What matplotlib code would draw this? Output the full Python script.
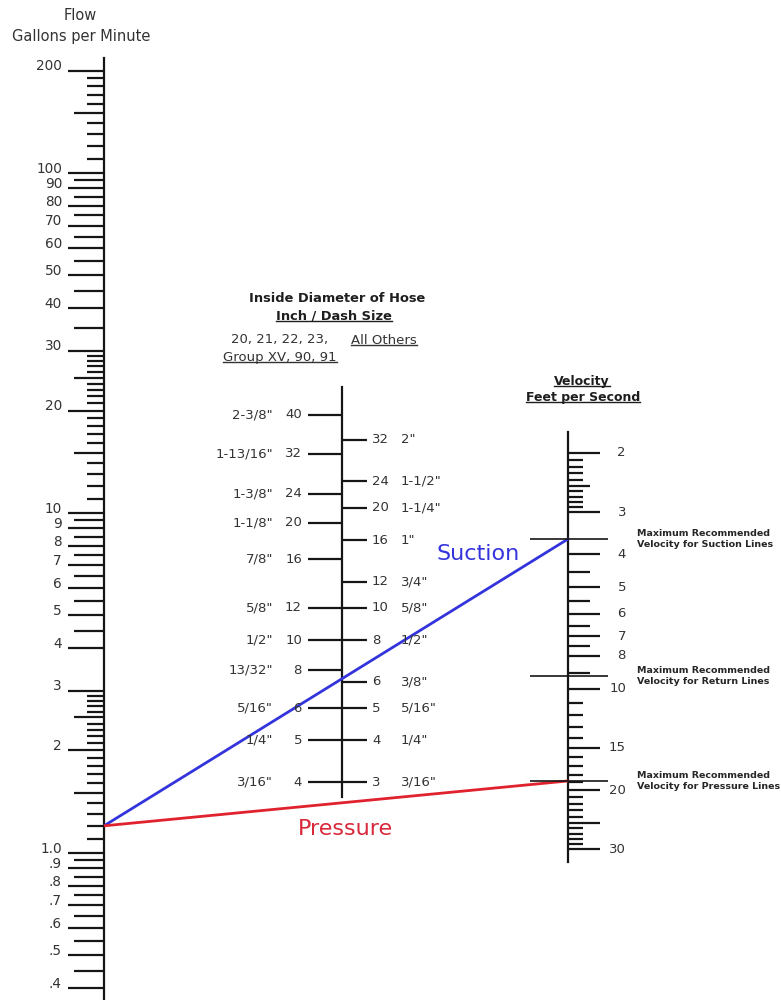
import matplotlib
matplotlib.use("Agg")
import numpy as np
import matplotlib.pyplot as plt

plt.rcParams['font.family'] = ['DejaVu Sans']

# Flow scale (gallons per minute)
FLOW_MAJOR = [200, 100, 90, 80, 70, 60, 50, 40, 30, 20, 10, 9, 8, 7, 6, 5, 4, 3, 2,
              1.0, 0.9, 0.8, 0.7, 0.6, 0.5, 0.4]
FLOW_MAJOR_TEXT = ["200", "100", "90", "80", "70", "60", "50", "40", "30", "20", "10",
                   "9", "8", "7", "6", "5", "4", "3", "2",
                   "1.0", ".9", ".8", ".7", ".6", ".5", ".4"]
FLOW_MID = [150, 95, 85, 75, 65, 55, 45, 35, 25, 15, 9.5, 8.5, 7.5, 6.5, 5.5, 4.5,
            2.5, 1.5, 0.95, 0.85, 0.75, 0.65, 0.55, 0.45]
FLOW_MINOR = [190, 180, 170, 160, 140, 130, 120, 110,
              29, 28, 27, 26, 24, 23, 22, 21,
              19, 18, 17, 16, 14, 13, 12, 11,
              2.9, 2.8, 2.7, 2.6, 2.4, 2.3, 2.2, 2.1,
              1.9, 1.8, 1.7, 1.6, 1.4, 1.3, 1.2, 1.1]

# Hose inside diameter (inches) with dash sizes, two hose groups
LEFT_DIA = [2.375, 1.8125, 1.375, 1.125, 0.875, 0.625, 0.5, 0.40625, 0.3125, 0.25, 0.1875]
LEFT_DASH = ["40", "32", "24", "20", "16", "12", "10", "8", "6", "5", "4"]
LEFT_INCH = ['2-3/8"', '1-13/16"', '1-3/8"', '1-1/8"', '7/8"', '5/8"', '1/2"',
             '13/32"', '5/16"', '1/4"', '3/16"']
RIGHT_DIA = [2.0, 1.5, 1.25, 1.0, 0.75, 0.625, 0.5, 0.375, 0.3125, 0.25, 0.1875]
RIGHT_DASH = ["32", "24", "20", "16", "12", "10", "8", "6", "5", "4", "3"]
RIGHT_INCH = ['2"', '1-1/2"', '1-1/4"', '1"', '3/4"', '5/8"', '1/2"', '3/8"',
              '5/16"', '1/4"', '3/16"']

# Velocity scale (feet per second)
VEL_MAJOR = [2, 3, 4, 5, 6, 7, 8, 10, 15, 20, 30]
VEL_LONG = [25]
VEL_MID = [2.5, 4.5, 5.5, 6.5, 7.5, 9]
VEL_MINOR = [2.1, 2.2, 2.3, 2.4, 2.6, 2.7, 2.8, 2.9,
             11, 12, 13, 14, 16, 17, 18, 19, 21, 22, 23, 24, 26, 27, 28, 29]

# Maximum recommended velocities
MAX_VEL = [3.6, 9.2, 18.8]
MAX_VEL_TEXT = ["Maximum Recommended\nVelocity for Suction Lines",
                "Maximum Recommended\nVelocity for Return Lines",
                "Maximum Recommended\nVelocity for Pressure Lines"]

# Worked example: 1.2 gpm
EXAMPLE_FLOW = 1.2
SUCTION_VEL = 3.6
PRESSURE_VEL = 18.8

W, H = 781, 1000
INK = "#161616"
TXT = "#333333"
BLUE = "#3434dc"
RED = "#e0222e"

fig = plt.figure(figsize=(W / 100, H / 100), dpi=100)
base = fig.add_axes([0, 0, 1, 1])
base.set_xlim(0, W)
base.set_ylim(H, 0)
base.axis("off")


def log_axes(v_a, y_a, v_b, y_b):
    """Overlay axes with a log y scale pinned to two (value, pixel-from-top) anchors."""
    ax = fig.add_axes([0, 0, 1, 1])
    ax.set_xlim(0, W)
    ax.set_yscale("log")
    k = (np.log10(v_b) - np.log10(v_a)) / (y_b - y_a)
    lo = 10 ** (np.log10(v_a) + (H - y_a) * k)
    hi = 10 ** (np.log10(v_a) - y_a * k)
    ax.set_ylim(lo, hi)
    ax.axis("off")
    ax.patch.set_visible(False)
    return ax


ax_f = log_axes(200, 70.6, 0.4, 988)
ax_d = log_axes(1.0, 540, 0.1, 873)
ax_v = log_axes(2, 453, 20, 790)

# ---- flow scale ----
FX = 104
base.plot([FX, FX], [58, H], color=INK, lw=1.6)
ax_f.hlines(FLOW_MAJOR, 68, FX, color=INK, lw=1.6)
ax_f.hlines(FLOW_MID, 74, FX, color=INK, lw=1.6)
ax_f.hlines(FLOW_MINOR, 87, FX, color=INK, lw=1.6)
for v, s in zip(FLOW_MAJOR, FLOW_MAJOR_TEXT):
    ax_f.annotate(s, (62, v), xytext=(0, 3), textcoords="offset points",
                  ha="right", va="center", fontsize=9.8, color=TXT)
base.text(80, 16, "Flow", ha="center", va="center", fontsize=10.5, color=TXT)
base.text(81, 37, "Gallons per Minute", ha="center", va="center", fontsize=10.5, color=TXT)

# ---- hose diameter scale ----
DX = 342
base.plot([DX, DX], [387, 797], color=INK, lw=1.6)
ax_d.hlines(LEFT_DIA, 308, DX, color=INK, lw=1.6)
ax_d.hlines(RIGHT_DIA, DX, 367, color=INK, lw=1.6)
for d, dash, inch in zip(LEFT_DIA, LEFT_DASH, LEFT_INCH):
    ax_d.text(302, d, dash, ha="right", va="center", fontsize=9.5, color=TXT)
    ax_d.text(273, d, inch, ha="right", va="center", fontsize=9.5, color=TXT)
for d, dash, inch in zip(RIGHT_DIA, RIGHT_DASH, RIGHT_INCH):
    ax_d.text(372, d, dash, ha="left", va="center", fontsize=9.5, color=TXT)
    ax_d.text(401, d, inch, ha="left", va="center", fontsize=9.5, color=TXT)

underlined = []
base.text(337, 299, "Inside Diameter of Hose", ha="center", va="center",
          fontsize=9.4, fontweight="bold", color="#1e1e1e")
underlined.append(base.text(334, 316, "Inch / Dash Size", ha="center", va="center",
                            fontsize=9.4, fontweight="bold", color="#1e1e1e"))
base.text(280, 340, "20, 21, 22, 23,", ha="center", va="center", fontsize=9.5, color=TXT)
underlined.append(base.text(384, 340, "All Others", ha="center", va="center",
                            fontsize=9.5, color=TXT))
underlined.append(base.text(280, 357, "Group XV, 90, 91", ha="center", va="center",
                            fontsize=9.5, color=TXT))

# ---- velocity scale ----
VX = 568
base.plot([VX, VX], [432, 862], color=INK, lw=1.6)
ax_v.hlines(VEL_MAJOR + VEL_LONG, VX, 600, color=INK, lw=1.6)
ax_v.hlines(VEL_MID, VX, 590, color=INK, lw=1.6)
ax_v.hlines(VEL_MINOR, VX, 583, color=INK, lw=1.6)
for v in VEL_MAJOR:
    ax_v.text(626, v, str(v), ha="right", va="center", fontsize=9.5, color=TXT)
ax_v.hlines(MAX_VEL, 530, 608, color=INK, lw=1.2)
for v, s in zip(MAX_VEL, MAX_VEL_TEXT):
    ax_v.text(637, v, s, ha="left", va="center", fontsize=6.8, fontweight="bold",
              color="#262626", linespacing=1.3)
underlined.append(base.text(582, 381, "Velocity", ha="center", va="center",
                            fontsize=9, fontweight="bold", color="#1e1e1e"))
underlined.append(base.text(583, 397, "Feet per Second", ha="center", va="center",
                            fontsize=9, fontweight="bold", color="#1e1e1e"))


# ---- example lines ----
def to_base(ax, pt):
    return base.transData.inverted().transform(ax.transData.transform(pt))


p0 = to_base(ax_f, (FX, EXAMPLE_FLOW))
p_s = to_base(ax_v, (VX, SUCTION_VEL))
p_p = to_base(ax_v, (VX, PRESSURE_VEL))
base.plot([p0[0], p_s[0]], [p0[1], p_s[1]], color=BLUE, lw=2.0, solid_capstyle="round")
base.plot([p0[0], p_p[0]], [p0[1], p_p[1]], color=RED, lw=2.0, solid_capstyle="round")
base.text(478, 554, "Suction", ha="center", va="center", fontsize=16, color=BLUE)
base.text(345, 829, "Pressure", ha="center", va="center", fontsize=16, color="#d8283a")

# underline the headings that carry one
fig.canvas.draw()
renderer = fig.canvas.get_renderer()
inv = base.transData.inverted()
for t in underlined:
    bb = t.get_window_extent(renderer)
    (x0, y0), (x1, _) = inv.transform([(bb.x0, bb.y0), (bb.x1, bb.y0)])
    base.plot([x0, x1], [y0 - 1.5, y0 - 1.5], color=t.get_color(), lw=1.0)

fig.savefig("out.png", dpi=100, facecolor="white")
